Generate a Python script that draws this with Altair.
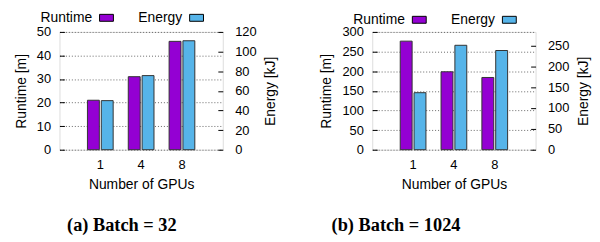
import altair as alt
import pandas as pd

gpus = ["1", "4", "8"]
series = ["Runtime", "Energy"]
colors = ["#9400D3", "#56B4E9"]

runtime_b32 = [21, 31, 46]
energy_b32 = [50, 75.5, 111]
runtime_b1024 = [276.5, 198.5, 184]
energy_b1024 = [136.5, 250, 237.5]

runtime_ticks_b32 = [0, 10, 20, 30, 40, 50]
energy_ticks_b32 = [0, 20, 40, 60, 80, 100, 120]
runtime_ticks_b1024 = [0, 50, 100, 150, 200, 250, 300]
energy_ticks_b1024 = [0, 50, 100, 150, 200, 250]

captions = ["(a) Batch = 32", "(b) Batch = 1024"]

FONT = "Liberation Sans"


def panel(runtime, energy, rdom, rticks, edom, eticks, caption, cap_dx, legend_y):
    df_r = pd.DataFrame({"gpus": gpus, "series": "Runtime", "value": runtime})
    df_e = pd.DataFrame({"gpus": gpus, "series": "Energy", "value": energy})

    x = alt.X(
        "gpus:N", sort=gpus,
        scale=alt.Scale(paddingInner=0.37, paddingOuter=0.685),
        axis=alt.Axis(title="Number of GPUs", labelAngle=0, ticks=False, domain=False,
                      labelPadding=9, titlePadding=6, labelFontSize=13, titleFontSize=14,
                      titleFontWeight="normal", grid=False),
    )
    xoff = alt.XOffset("series:N", sort=series,
                       scale=alt.Scale(domain=series, paddingInner=0.14))
    color = alt.Color(
        "series:N", sort=series,
        scale=alt.Scale(domain=series, range=colors),
        legend=alt.Legend(
            title=None, orient="none", direction="horizontal",
            legendX=40, legendY=legend_y,
            symbolType="M-1,-0.5H1V0.5H-1Z", symbolSize=196,
            symbolStrokeColor="black", symbolStrokeWidth=1,
            labelAlign="right", labelOffset={"expr": "-22"}, labelFontSize=14,
            labelFontWeight="normal",
            labelFont=FONT, labelColor="black", columnPadding=22, padding=0,
        ),
    )

    bars = dict(stroke="#333333", strokeWidth=1)

    r = alt.Chart(df_r).mark_bar(**bars).encode(
        x=x, xOffset=xoff, color=color,
        y=alt.Y("value:Q", scale=alt.Scale(domain=rdom, nice=False, zero=True),
                axis=alt.Axis(orient="left", values=rticks, title="Runtime [m]",
                              grid=True, gridDash=[1, 2], gridColor="#666666",
                              offset={"expr": "-5"}, tickSize=5, tickColor="black",
                              domain=False, labelPadding=9, titlePadding=8,
                              labelFontSize=13, titleFontSize=14,
                              titleFontWeight="normal")),
    )
    e = alt.Chart(df_e).mark_bar(**bars).encode(
        x=x, xOffset=xoff, color=color,
        y=alt.Y("value:Q", scale=alt.Scale(domain=edom, nice=False, zero=True),
                axis=alt.Axis(orient="right", values=eticks, title="Energy [kJ]",
                              titleAngle=270, titleBaseline="top",
                              grid=False, offset={"expr": "-5"}, tickSize=5,
                              tickColor="black", domain=False, labelPadding=12,
                              titlePadding=8, labelFontSize=13, titleFontSize=14,
                              titleFontWeight="normal")),
    )
    return alt.layer(r, e).resolve_scale(y="independent").properties(
        width=165, height=119,
        title=alt.TitleParams(caption, orient="bottom", anchor="middle", frame="group",
                              dx=cap_dx, offset=25, font="Liberation Serif",
                              fontWeight="bold", fontSize=18.5, color="black"),
    )


left = panel(runtime_b32, energy_b32, [0, 50], runtime_ticks_b32,
             [0, 120], energy_ticks_b32, captions[0], -19.5, -22)
right = panel(runtime_b1024, energy_b1024, [0, 300], runtime_ticks_b1024,
              [0, 282], energy_ticks_b1024, captions[1], -58.5, -20)

chart = alt.hconcat(left, right, spacing=40).resolve_scale(
    color="independent").resolve_legend(color="independent").properties(
    padding={"left": 6, "top": 0, "right": 0, "bottom": 0}
).configure_view(stroke="black", strokeWidth=1).configure(
    font=FONT
).configure_axis(labelColor="black", titleColor="black", labelFont=FONT, titleFont=FONT)

chart.save("out.html", embed_options={"renderer": "svg", "actions": False})
